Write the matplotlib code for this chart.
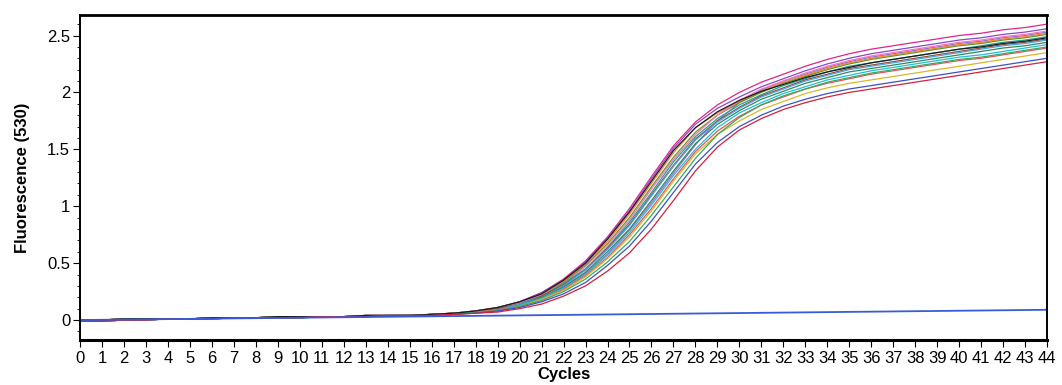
import matplotlib
matplotlib.use("Agg")
import matplotlib.pyplot as plt
from matplotlib.ticker import MultipleLocator, FixedLocator

plt.rcParams['font.family'] = ['Liberation Sans', 'DejaVu Sans']

cycles = list(range(0, 45))

# baseline part (cycles 0..17)
base_a = [0.00, 0.00, 0.01, 0.01, 0.01, 0.01, 0.02, 0.02, 0.02, 0.03, 0.03, 0.03,
          0.03, 0.04, 0.04, 0.04, 0.05, 0.06]
base_b = [-0.01, -0.01, 0.00, 0.00, 0.01, 0.01, 0.01, 0.02, 0.02, 0.02, 0.02, 0.03,
          0.03, 0.03, 0.04, 0.04, 0.04, 0.05]

# amplification part (cycles 18..44)
magenta = [0.08, 0.11, 0.16, 0.24, 0.36, 0.52, 0.73, 0.98, 1.26, 1.53, 1.74, 1.89, 2.00,
           2.09, 2.16, 2.23, 2.29, 2.34, 2.38, 2.41, 2.44, 2.47, 2.50, 2.52, 2.55, 2.57, 2.60]
purple = [0.08, 0.11, 0.16, 0.24, 0.35, 0.51, 0.72, 0.96, 1.24, 1.51, 1.72, 1.86, 1.96,
          2.05, 2.12, 2.19, 2.25, 2.30, 2.34, 2.37, 2.40, 2.43, 2.46, 2.48, 2.51, 2.53, 2.56]
black = [0.08, 0.11, 0.16, 0.23, 0.35, 0.50, 0.71, 0.95, 1.22, 1.49, 1.69, 1.83, 1.93,
         2.01, 2.07, 2.13, 2.18, 2.22, 2.26, 2.29, 2.32, 2.35, 2.38, 2.40, 2.43, 2.45, 2.48]
orange = [0.08, 0.11, 0.15, 0.23, 0.34, 0.49, 0.69, 0.93, 1.20, 1.47, 1.69, 1.82, 1.92,
          2.01, 2.09, 2.15, 2.21, 2.26, 2.30, 2.33, 2.36, 2.39, 2.42, 2.44, 2.47, 2.49, 2.52]
olive = [0.08, 0.10, 0.15, 0.22, 0.33, 0.48, 0.67, 0.90, 1.17, 1.43, 1.65, 1.80, 1.91,
         2.00, 2.08, 2.14, 2.20, 2.25, 2.29, 2.32, 2.35, 2.38, 2.41, 2.43, 2.46, 2.48, 2.51]
pink = [0.08, 0.10, 0.15, 0.22, 0.32, 0.47, 0.66, 0.88, 1.15, 1.41, 1.63, 1.80, 1.93,
        2.03, 2.10, 2.17, 2.23, 2.28, 2.32, 2.35, 2.38, 2.41, 2.44, 2.46, 2.49, 2.51, 2.54]
teal = [0.07, 0.10, 0.14, 0.21, 0.32, 0.45, 0.64, 0.86, 1.12, 1.39, 1.61, 1.77, 1.89,
        1.98, 2.06, 2.12, 2.18, 2.23, 2.26, 2.29, 2.32, 2.35, 2.38, 2.41, 2.44, 2.46, 2.49]
brown = [0.07, 0.10, 0.14, 0.21, 0.31, 0.44, 0.63, 0.84, 1.10, 1.36, 1.59, 1.75, 1.87,
         1.97, 2.04, 2.11, 2.16, 2.21, 2.24, 2.27, 2.30, 2.33, 2.36, 2.39, 2.42, 2.44, 2.47]
lightblue = [0.07, 0.09, 0.14, 0.20, 0.30, 0.44, 0.62, 0.83, 1.09, 1.35, 1.58, 1.74, 1.86,
             1.96, 2.03, 2.10, 2.15, 2.20, 2.23, 2.26, 2.29, 2.32, 2.35, 2.38, 2.41, 2.43, 2.46]
darkgreen = [0.07, 0.09, 0.13, 0.20, 0.29, 0.42, 0.60, 0.80, 1.05, 1.31, 1.55, 1.72, 1.84,
             1.94, 2.01, 2.08, 2.13, 2.18, 2.21, 2.24, 2.27, 2.30, 2.33, 2.36, 2.39, 2.41, 2.44]
violet = [0.07, 0.09, 0.13, 0.19, 0.29, 0.41, 0.58, 0.79, 1.03, 1.29, 1.54, 1.75, 1.91,
          2.02, 2.10, 2.16, 2.22, 2.27, 2.31, 2.34, 2.37, 2.40, 2.43, 2.45, 2.48, 2.50, 2.53]
cyan = [0.07, 0.09, 0.13, 0.19, 0.28, 0.40, 0.57, 0.77, 1.01, 1.27, 1.50, 1.69, 1.82,
        1.91, 1.99, 2.05, 2.11, 2.15, 2.19, 2.22, 2.25, 2.28, 2.31, 2.33, 2.36, 2.39, 2.42]
salmon = [0.07, 0.09, 0.12, 0.18, 0.27, 0.39, 0.55, 0.75, 0.98, 1.24, 1.48, 1.66, 1.79,
          1.89, 1.96, 2.03, 2.08, 2.12, 2.16, 2.19, 2.22, 2.25, 2.28, 2.30, 2.33, 2.36, 2.39]
khaki = [0.07, 0.08, 0.12, 0.18, 0.26, 0.38, 0.54, 0.73, 0.96, 1.22, 1.46, 1.63, 1.75,
         1.85, 1.92, 1.99, 2.04, 2.08, 2.11, 2.14, 2.17, 2.20, 2.23, 2.26, 2.29, 2.32, 2.35]
green = [0.07, 0.08, 0.12, 0.17, 0.25, 0.36, 0.51, 0.69, 0.92, 1.17, 1.42, 1.63, 1.78,
         1.89, 1.97, 2.03, 2.09, 2.13, 2.17, 2.20, 2.23, 2.26, 2.29, 2.31, 2.34, 2.37, 2.40]
blue = [0.06, 0.08, 0.11, 0.16, 0.23, 0.33, 0.48, 0.65, 0.87, 1.12, 1.37, 1.56, 1.70,
        1.80, 1.88, 1.94, 1.99, 2.03, 2.06, 2.09, 2.12, 2.15, 2.18, 2.21, 2.24, 2.27, 2.30]
red = [0.06, 0.07, 0.10, 0.14, 0.21, 0.30, 0.43, 0.59, 0.80, 1.05, 1.31, 1.52, 1.67,
       1.77, 1.85, 1.91, 1.96, 2.00, 2.03, 2.06, 2.09, 2.12, 2.15, 2.18, 2.21, 2.24, 2.27]

# negative control (straight line)
ntc_cycles = [0, 44]
ntc_values = [0.00, 0.09]

series = [
    (base_a, magenta, '#e0258a'),
    (base_a, purple, '#8e44c8'),
    (base_b, violet, '#a066e0'),
    (base_a, orange, '#f28a30'),
    (base_b, olive, '#6f8f2a'),
    (base_a, pink, '#f07ab8'),
    (base_b, teal, '#1aa596'),
    (base_a, brown, '#9a4a3a'),
    (base_b, lightblue, '#4aa3ea'),
    (base_a, darkgreen, '#2e8b57'),
    (base_b, cyan, '#22bbd8'),
    (base_a, salmon, '#ea5060'),
    (base_b, khaki, '#d8b828'),
    (base_a, green, '#38aa5c'),
    (base_a, black, '#1a1a1a'),
    (base_b, blue, '#3c52c4'),
    (base_b, red, '#d4203e'),
]

fig = plt.figure(figsize=(10.62, 3.85), dpi=100)
ax = fig.add_axes([0.0753, 0.117, 0.9107, 0.844])

for base, amp, col in series:
    ax.plot(cycles, base + amp, color=col, lw=0.9)

ax.plot(ntc_cycles, ntc_values, color='#3b5bd6', lw=1.3)

ax.set_xlim(0, 44)
ax.set_ylim(-0.175, 2.68)

ax.set_xticks(cycles)
ax.set_xticklabels([str(c) for c in cycles], fontsize=12)
ax.yaxis.set_major_locator(FixedLocator([0, 0.5, 1, 1.5, 2, 2.5]))
ax.set_yticklabels(['0', '0.5', '1', '1.5', '2', '2.5'], fontsize=12)
ax.yaxis.set_minor_locator(MultipleLocator(0.1))
ax.tick_params(axis='x', length=5, width=0.8, pad=3)
ax.tick_params(axis='y', which='major', length=5, width=0.8, pad=2)
ax.tick_params(axis='y', which='minor', length=2.5, width=0.6)

for s in ['left', 'right']:
    ax.spines[s].set_linewidth(1.4)
ax.spines['bottom'].set_linewidth(2.2)
ax.spines['top'].set_linewidth(2.0)

ax.set_xlabel('Cycles', fontsize=12, fontweight='bold', labelpad=1)
ax.set_ylabel('Fluorescence (530)', fontsize=12, fontweight='bold', labelpad=12)

fig.savefig('out.png', dpi=100)
